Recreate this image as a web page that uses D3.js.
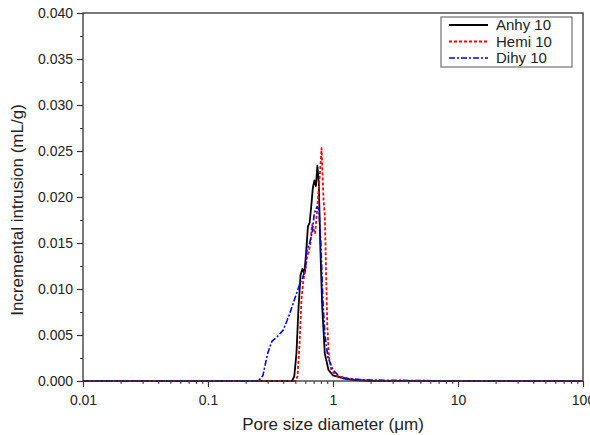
<!DOCTYPE html>
<html>
<head>
<meta charset="utf-8">
<script src="https://cdn.jsdelivr.net/npm/d3@7"></script>
<style>
  body { margin: 0; background: #fff; }
  text { font-family: Arial, "Liberation Sans", sans-serif; fill: #222; }
</style>
</head>
<body>
<div id="container"></div>
<script>
/* DATA (pore size in um, incremental intrusion in mL/g) */
const anhyX = [0.01, 0.1, 0.3, 0.47, 0.49, 0.51, 0.53, 0.55, 0.57, 0.59, 0.61, 0.63, 0.65, 0.67, 0.69, 0.71, 0.73, 0.75, 0.77, 0.79, 0.82, 0.86, 0.92, 1.0, 1.2, 1.5, 2, 10, 100]
const anhyY = [0, 0, 0, 0, 0.0005, 0.003, 0.008, 0.0115, 0.0122, 0.0117, 0.014, 0.0168, 0.0172, 0.019, 0.021, 0.0218, 0.0212, 0.0234, 0.0215, 0.015, 0.008, 0.003, 0.0012, 0.0006, 0.0003, 0.0001, 0, 0, 0]

const hemiX = [0.01, 0.1, 0.3, 0.5, 0.52, 0.54, 0.56, 0.58, 0.6, 0.62, 0.64, 0.66, 0.68, 0.7, 0.72, 0.74, 0.76, 0.79, 0.81, 0.84, 0.86, 0.88, 0.9, 0.93, 0.97, 1.05, 1.3, 1.7, 2.2, 10, 100]
const hemiY = [0, 0, 0, 0, 0.0005, 0.004, 0.009, 0.011, 0.012, 0.0135, 0.014, 0.015, 0.017, 0.0165, 0.016, 0.018, 0.02, 0.023, 0.0253, 0.0197, 0.018, 0.012, 0.006, 0.0025, 0.0012, 0.0006, 0.0003, 0.0001, 0, 0, 0]

const dihyX = [0.01, 0.1, 0.24, 0.26, 0.275, 0.3, 0.324, 0.357, 0.398, 0.43, 0.45, 0.49, 0.52, 0.54, 0.57, 0.6, 0.62, 0.65, 0.68, 0.71, 0.745, 0.77, 0.8, 0.83, 0.86, 0.91, 1.0, 1.14, 1.35, 2, 10, 100]
const dihyY = [0, 0, 0, 0.0002, 0.0006, 0.003, 0.0043, 0.0048, 0.0055, 0.0066, 0.0073, 0.0088, 0.0098, 0.0105, 0.0112, 0.012, 0.0143, 0.015, 0.0161, 0.0183, 0.0189, 0.0187, 0.015, 0.0088, 0.0052, 0.0026, 0.0012, 0.0004, 0.0002, 0.0001, 0, 0]

const seriesNames = ["Anhy 10", "Hemi 10", "Dihy 10"]
const xTicks = [0.01, 0.1, 1, 10, 100]
const xTickLabels = ["0.01", "0.1", "1", "10", "100"]
const yTicks = [0, 0.005, 0.010, 0.015, 0.020, 0.025, 0.030, 0.035, 0.040]

/* CONSTANTS */
const width = 590, height = 435
const margin = {left: 83, right: 7, top: 13, bottom: 54}

const series = [
  {name: seriesNames[0], xs: anhyX, ys: anhyY, color: "#000", dash: null, w: 1.8},
  {name: seriesNames[1], xs: hemiX, ys: hemiY, color: "#f00", dash: "3,2", w: 1.8},
  {name: seriesNames[2], xs: dihyX, ys: dihyY, color: "#00f", dash: "6,2,2,2", w: 1.6}
]

const svg = d3.select("#container")
  .append("svg")
  .attr("width", width)
  .attr("height", height)

// SCALES
const xScale = d3.scaleLog()
  .domain([0.01, 100])
  .range([margin.left, width - margin.right])

const yScale = d3.scaleLinear()
  .domain([0, 0.04])
  .range([height - margin.bottom, margin.top])

// LINES
const lineGen = d3.line()
  .x(d => xScale(d[0]))
  .y(d => yScale(d[1]))

series.forEach(s => {
  svg.append("path")
    .attr("fill", "none")
    .attr("stroke", s.color)
    .attr("stroke-width", s.w)
    .attr("stroke-dasharray", s.dash)
    .attr("stroke-linejoin", "round")
    .attr("d", lineGen(s.xs.map((x, i) => [x, s.ys[i]])))
})

// FRAME
svg.append("rect")
  .attr("x", margin.left)
  .attr("y", margin.top)
  .attr("width", width - margin.left - margin.right)
  .attr("height", height - margin.top - margin.bottom)
  .attr("fill", "none")
  .attr("stroke", "#333")
  .attr("stroke-width", 1.3)

// X AXIS
const minorX = []
for (let e = -2; e < 2; e++) {
  for (let m = 2; m <= 9; m++) minorX.push(m * Math.pow(10, e))
}
svg.append("g")
  .attr("transform", `translate(0, ${height - margin.bottom})`)
  .call(d3.axisBottom(xScale).tickValues(minorX).tickSize(3).tickFormat(""))
  .call(g => g.select(".domain").remove())
  .call(g => g.selectAll("line").attr("stroke", "#333"))

svg.append("g")
  .attr("class", "xAxis")
  .attr("transform", `translate(0, ${height - margin.bottom})`)
  .call(d3.axisBottom(xScale).tickValues(xTicks).tickSize(6).tickPadding(8)
    .tickFormat((d, i) => xTickLabels[i]))
  .call(g => g.select(".domain").remove())
  .call(g => g.selectAll("line").attr("stroke", "#333").attr("stroke-width", 1.2))
  .call(g => g.selectAll("text").attr("font-size", 14).attr("fill", "#333"))

// Y AXIS
const minorY = d3.range(0.0025, 0.04, 0.005)
svg.append("g")
  .attr("transform", `translate(${margin.left}, 0)`)
  .call(d3.axisLeft(yScale).tickValues(minorY).tickSize(3).tickFormat(""))
  .call(g => g.select(".domain").remove())
  .call(g => g.selectAll("line").attr("stroke", "#333"))

svg.append("g")
  .attr("class", "yAxis")
  .attr("transform", `translate(${margin.left}, 0)`)
  .call(d3.axisLeft(yScale).tickValues(yTicks).tickSize(6).tickPadding(4)
    .tickFormat(d3.format(".3f")))
  .call(g => g.select(".domain").remove())
  .call(g => g.selectAll("line").attr("stroke", "#333").attr("stroke-width", 1.2))
  .call(g => g.selectAll("text").attr("font-size", 14).attr("fill", "#333"))

// AXIS LABELS
svg.append("text")
  .attr("text-anchor", "middle")
  .attr("x", xScale(1))
  .attr("y", 430)
  .attr("font-size", 17)
  .text("Pore size diameter (μm)")

svg.append("text")
  .attr("text-anchor", "middle")
  .attr("transform", "rotate(-90)")
  .attr("x", -210)
  .attr("y", 23)
  .attr("font-size", 17)
  .text("Incremental intrusion (mL/g)")

// LEGEND
const legend = svg.append("g").attr("transform", "translate(441, 17)")
legend.append("rect")
  .attr("width", 131)
  .attr("height", 50)
  .attr("fill", "#fff")
  .attr("stroke", "#555")
  .attr("stroke-width", 1)

series.forEach((s, i) => {
  const y = 8 + i * 16.5
  legend.append("line")
    .attr("x1", 8).attr("x2", 47)
    .attr("y1", y).attr("y2", y)
    .attr("stroke", s.color)
    .attr("stroke-width", s.w)
    .attr("stroke-dasharray", s.dash)
  legend.append("text")
    .attr("x", 55)
    .attr("y", y + 5)
    .attr("font-size", 15)
    .text(s.name)
})
</script>
</body>
</html>
